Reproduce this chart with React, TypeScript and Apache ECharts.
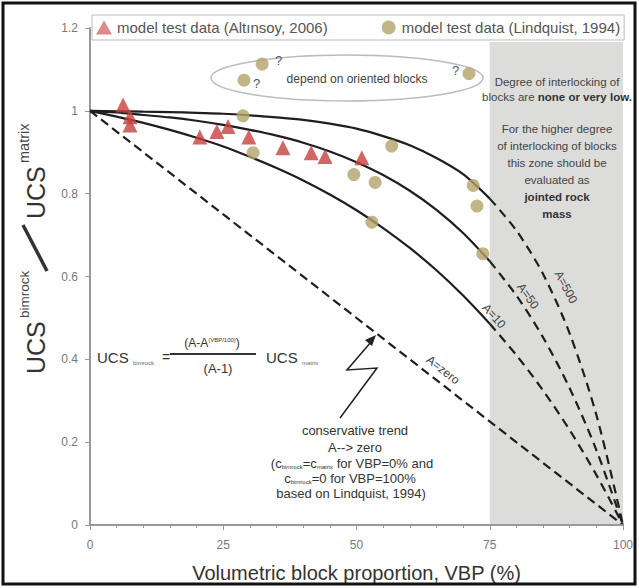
import React, { useEffect, useRef } from 'react';
import * as echarts from 'echarts';

const VBP = [0, 5, 10, 15, 20, 25, 30, 35, 40, 45, 50, 55, 60, 65, 70, 75, 80, 85, 90, 95, 100];
const CURVE_A10 = [1, 0.986, 0.971, 0.954, 0.935, 0.914, 0.889, 0.862, 0.832, 0.798, 0.76, 0.717, 0.669, 0.615, 0.554, 0.486, 0.41, 0.325, 0.229, 0.121, 0];
const CURVE_A50 = [1, 0.996, 0.99, 0.984, 0.976, 0.966, 0.954, 0.94, 0.923, 0.902, 0.876, 0.845, 0.807, 0.761, 0.705, 0.637, 0.554, 0.453, 0.33, 0.181, 0];
const CURVE_A500 = [1, 0.999, 0.998, 0.997, 0.995, 0.993, 0.989, 0.984, 0.978, 0.969, 0.957, 0.939, 0.917, 0.886, 0.847, 0.788, 0.711, 0.606, 0.462, 0.266, 0];
const ZERO_X = [0, 100];
const ZERO_Y = [1, 0];

const ALT_X = [6.2, 7.5, 7.5, 20.6, 23.8, 25.9, 29.8, 36.2, 41.5, 44.1, 51.0];
const ALT_Y = [1.014, 0.986, 0.966, 0.937, 0.95, 0.962, 0.937, 0.911, 0.899, 0.89, 0.887];
const LIN_X = [28.7, 30.6, 49.5, 53.5, 52.9, 56.6, 71.9, 72.6, 73.7, 32.3, 28.9, 71.1];
const LIN_Y = [0.988, 0.899, 0.846, 0.827, 0.731, 0.915, 0.82, 0.77, 0.655, 1.113, 1.074, 1.09];

const Y_MIN = 0, Y_MAX = 1.2, Y_STEP = 0.2;
const X_MIN = 0, X_MAX = 100, X_STEP = 25;
const ZONE_FROM = 75, ZONE_TO = 100, ZONE_TOP = 1.166;

const ALT_NAME = 'model test data (Altınsoy, 2006)';
const LIN_NAME = 'model test data (Lindquist, 1994)';

const FONT = 'Liberation Sans, Arial, sans-serif';
const LINE_COLOR = '#1e1e1e';

const pairs = (xs: number[], ys: number[]) => xs.map((x, i) => [x, ys[i]]);
const SOLID_END = VBP.indexOf(75);

function curveSeries(ys: number[]) {
  const pts = pairs(VBP, ys);
  return [
    {
      type: 'line', data: pts.slice(0, SOLID_END + 1), symbol: 'none', smooth: 0.3, z: 3,
      lineStyle: { color: LINE_COLOR, width: 2.2, type: 'solid' },
    },
    {
      type: 'line', data: pts.slice(SOLID_END), symbol: 'none', smooth: 0.3, z: 3,
      lineStyle: { color: LINE_COLOR, width: 2.2, type: [9, 6] },
    },
  ];
}

const txt = (text: string, x: number, y: number, extra: any = {}) => ({
  type: 'text',
  z: 20,
  style: {
    text, x, y, fill: '#333', fontSize: 13, fontFamily: FONT,
    textAlign: 'left', align: 'left', textVerticalAlign: 'middle', verticalAlign: 'middle',
    ...extra,
  },
});

export default function App() {
  const ref = useRef<HTMLDivElement>(null);
  useEffect(() => {
    if (!ref.current) return;
    const chart = echarts.init(ref.current, null, { renderer: 'svg' });
    const center = { textAlign: 'center', align: 'center' };
    const zoneStyle = { fontSize: 11.5, fill: '#444', ...center };
    const option: any = {
      animation: false,
      backgroundColor: '#fff',
      textStyle: { fontFamily: FONT },
      grid: { left: 90, right: 16, top: 28, bottom: 61 },
      legend: {
        left: 92, top: 15,
        selectedMode: false,
        borderColor: '#bbb', borderWidth: 1,
        padding: [5, 4, 5, 4],
        itemGap: 54, itemWidth: 16, itemHeight: 14,
        textStyle: { fontSize: 15, color: '#555', fontFamily: FONT },
        data: [
          { name: ALT_NAME, icon: 'triangle', itemStyle: { color: '#d46f70' } },
          { name: LIN_NAME, icon: 'circle', itemStyle: { color: '#b3a36a' } },
        ],
      },
      xAxis: {
        type: 'value', min: X_MIN, max: X_MAX, interval: X_STEP, z: 4,
        axisLine: { show: true, lineStyle: { color: '#999', width: 2 } },
        axisTick: { show: true, length: 5, lineStyle: { color: '#999' } },
        minorTick: { show: true, splitNumber: 5, length: 3, lineStyle: { color: '#999' } },
        splitLine: { show: false },
        axisLabel: { color: '#777', fontSize: 12, margin: 14 },
        name: 'Volumetric block proportion, VBP (%)',
        nameLocation: 'middle', nameGap: 38,
        nameTextStyle: { fontSize: 20, color: '#333' },
      },
      yAxis: {
        type: 'value', min: Y_MIN, max: Y_MAX, interval: Y_STEP,
        axisLine: { show: true, lineStyle: { color: '#999', width: 2 } },
        axisTick: { show: true, length: 5, lineStyle: { color: '#999' } },
        splitLine: { show: false },
        axisLabel: { color: '#777', fontSize: 12, margin: 12 },
      },
      series: [
        {
          type: 'line', data: pairs(ZERO_X, ZERO_Y), symbol: 'none', z: 3,
          lineStyle: { color: LINE_COLOR, width: 2.2, type: [9, 5] },
          markArea: {
            silent: true,
            itemStyle: { color: '#dcdcda' },
            data: [[{ coord: [ZONE_FROM, 0] }, { coord: [ZONE_TO, ZONE_TOP] }]],
          },
        },
        ...curveSeries(CURVE_A10),
        ...curveSeries(CURVE_A50),
        ...curveSeries(CURVE_A500),
        {
          name: LIN_NAME, type: 'scatter', data: pairs(LIN_X, LIN_Y), symbol: 'circle', symbolSize: 13, z: 5,
          itemStyle: { color: '#b3a36a' },
        },
        {
          name: ALT_NAME, type: 'scatter', data: pairs(ALT_X, ALT_Y), symbol: 'triangle', symbolSize: 15, z: 6,
          itemStyle: { color: '#c8403e' },
        },
      ],
      graphic: [
        { type: 'rect', z: 30, shape: { x: 3, y: 3, width: 632, height: 581 }, style: { fill: 'none', stroke: '#111', lineWidth: 3 } },
        { type: 'ellipse', z: 1, shape: { cx: 347, cy: 78, rx: 136, ry: 23 }, style: { fill: 'none', stroke: '#bbb', lineWidth: 1.5 } },
        txt('depend on oriented blocks', 357, 79, { fontSize: 12, fill: '#444', ...center }),
        txt('?', 275, 60, { fontSize: 13, fill: '#4a5680' }),
        txt('?', 253, 83, { fontSize: 13, fill: '#4a5680' }),
        txt('?', 452, 70, { fontSize: 13, fill: '#4a5680' }),
        // zone text
        txt('Degree of interlocking of', 557, 82, zoneStyle),
        txt('{n|blocks are }{b|none or very low.}', 557, 97, {
          ...zoneStyle,
          rich: { n: { fontSize: 11.5, fill: '#444', fontFamily: FONT }, b: { fontSize: 11.5, fontWeight: 'bold', fill: '#333', fontFamily: FONT } },
        }),
        txt('For the higher degree', 557, 129, zoneStyle),
        txt('of interlocking of blocks', 557, 146, zoneStyle),
        txt('this zone should be', 557, 163, zoneStyle),
        txt('evaluated as', 557, 180, zoneStyle),
        txt('jointed rock', 557, 197, { ...zoneStyle, fontWeight: 'bold', fill: '#333' }),
        txt('mass', 557, 214, { ...zoneStyle, fontWeight: 'bold', fill: '#333' }),
        // curve labels
        { ...txt('A=500', 0, 0, { fontSize: 12, fill: '#444', ...center }), x: 566, y: 287, rotation: -62 * Math.PI / 180 },
        { ...txt('A=50', 0, 0, { fontSize: 12, fill: '#444', ...center }), x: 528, y: 296, rotation: -55 * Math.PI / 180 },
        { ...txt('A=10', 0, 0, { fontSize: 12, fill: '#444', ...center }), x: 494, y: 316, rotation: -48 * Math.PI / 180 },
        { ...txt('A=zero', 0, 0, { fontSize: 12, fill: '#444', ...center }), x: 443, y: 370, rotation: -38 * Math.PI / 180 },
        // formula
        txt('UCS', 97, 357, { fontSize: 15 }),
        txt('bimrock', 133, 363, { fontSize: 6, fill: '#666' }),
        txt('=', 162, 357, { fontSize: 14 }),
        txt('{m|(A-A}{s|(VBP/100)}{m|)}', 212, 343, {
          ...center,
          rich: { m: { fontSize: 12, fill: '#333', fontFamily: FONT }, s: { fontSize: 6, fill: '#333', fontFamily: FONT, verticalAlign: 'top' } },
        }),
        { type: 'line', z: 20, shape: { x1: 170, y1: 354, x2: 256, y2: 354 }, style: { stroke: '#333', lineWidth: 2 } },
        txt('(A-1)', 218, 368, { fontSize: 13, ...center }),
        txt('UCS', 266, 357, { fontSize: 15 }),
        txt('matrix', 302, 363, { fontSize: 6, fill: '#666' }),
        // conservative trend
        txt('conservative trend', 355, 430, { ...center }),
        txt('A--> zero', 355, 447, { ...center }),
        txt('(c{s|bimrock}=c{s|matrix} for VBP=0% and', 352, 463, {
          ...center,
          rich: { s: { fontSize: 6, fill: '#333', fontFamily: FONT, verticalAlign: 'bottom' } },
        }),
        txt('c{s|bimrock}=0 for VBP=100%', 350, 478, {
          ...center,
          rich: { s: { fontSize: 6, fill: '#333', fontFamily: FONT, verticalAlign: 'bottom' } },
        }),
        txt('based on Lindquist, 1994)', 351, 493, { ...center }),
        // arrow
        { type: 'polyline', z: 20, shape: { points: [[340, 418], [377, 368], [347, 370], [371, 342]] }, style: { stroke: '#222', lineWidth: 1.5, fill: 'none' } },
        { type: 'polygon', z: 20, shape: { points: [[376, 335], [372, 346], [365, 340]] }, style: { fill: '#222' } },
        // y title
        {
          type: 'group', x: 36, y: 249, rotation: Math.PI / 2, z: 20,
          children: [
            txt('UCS', -125, 0, { fontSize: 25, fill: '#333' }),
            txt('bimrock', -69, -12, { fontSize: 13.5, fill: '#444' }),
            txt('UCS', 30, 0, { fontSize: 25, fill: '#333' }),
            txt('matrix', 86, -12, { fontSize: 14.5, fill: '#444' }),
          ],
        },
        { type: 'line', z: 20, shape: { x1: 47, y1: 271, x2: 23, y2: 225 }, style: { stroke: '#333', lineWidth: 3.5 } },
      ],
    };
    chart.setOption(option);
    return () => chart.dispose();
  }, []);
  return <div ref={ref} style={{ position: 'fixed', left: 0, top: 0, width: 639, height: 588 }} />;
}
